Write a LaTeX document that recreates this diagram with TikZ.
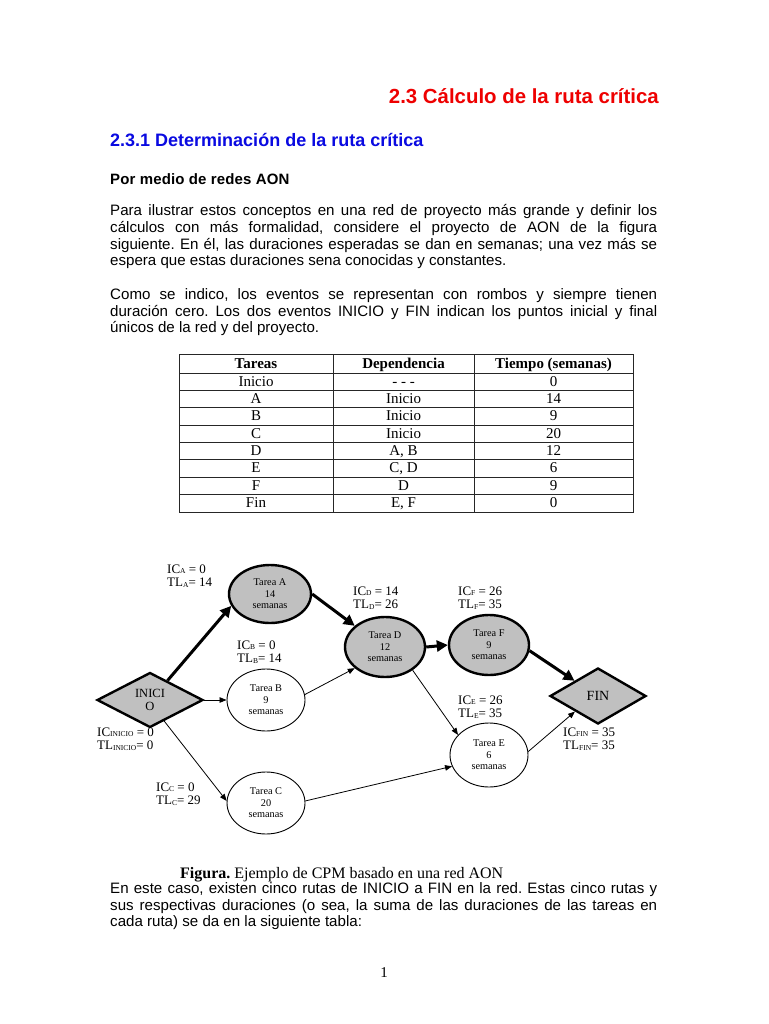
\documentclass[tikz,border=0pt]{standalone}
\usepackage{fontspec}
\setmainfont{Liberation Serif}
\newfontfamily\arial{Liberation Sans}
\usetikzlibrary{shapes.geometric,arrows.meta}
\definecolor{nodegray}{RGB}{192,192,192}
\definecolor{hred}{RGB}{238,0,0}
\definecolor{hblue}{RGB}{10,10,225}
\newcommand\sbs[1]{\raisebox{-0.5pt}{\fontsize{7.5}{7.5}\selectfont #1}}
\newcommand\jl[1]{\makebox[547pt][s]{#1}}
\newcommand\lbl[5]{\node[lab] (#1a) at (#2,#3) {#4};\node[lab] (#1b) at (#2,#3+13.5) {#5};}
\frenchspacing
\begin{document}
\begin{tikzpicture}[x=1pt,y=-1pt,
  body/.style={anchor=base west,inner sep=0,font=\arial\fontsize{15.1}{16.6}\selectfont},
  crit/.style={ellipse,draw,line width=2.4pt,fill=nodegray,inner sep=0,align=center,font=\fontsize{10.3}{11.5}\selectfont},
  norm/.style={ellipse,draw,line width=0.9pt,fill=white,inner sep=0,align=center,font=\fontsize{10.3}{11.5}\selectfont},
  event/.style={diamond,draw,line width=2.4pt,fill=nodegray,inner sep=0,align=center},
  critarrow/.style={line width=3pt,-{Triangle[length=11pt,width=11pt]}},
  thinarrow/.style={line width=0.8pt,-{Triangle[length=7pt,width=5.5pt]}},
  lab/.style={anchor=base west,inner sep=0,font=\fontsize{13}{14}\selectfont},
  cell/.style={anchor=base,inner sep=0,font=\fontsize{15}{17}\selectfont},
  cellh/.style={anchor=base,inner sep=0,font=\bfseries\fontsize{15}{17}\selectfont},
  tline/.style={line width=0.8pt,draw=black!85}]
\useasboundingbox (0,0) rectangle (768,1024);
\fill[white] (0,0) rectangle (768,1024);

% headings
\node[anchor=base east,inner sep=0,text=hred,font=\arial\bfseries\fontsize{20.4}{24}\selectfont] (h1) at (659,104) {2.3 Cálculo de la ruta crítica};
\node[anchor=base west,inner sep=0,text=hblue,font=\arial\bfseries\fontsize{18}{21}\selectfont] (h2) at (110,147) {2.3.1 Determinación de la ruta crítica};
\node[anchor=base west,inner sep=0,font=\arial\bfseries\fontsize{15}{17}\selectfont\addfontfeature{LetterSpace=1}] (h3) at (110,185) {Por medio de redes AON};

% paragraph 1
\node[body] (p1a) at (110,215.7) {\jl{Para ilustrar estos conceptos en una red de proyecto más grande y definir los}};
\node[body] (p1b) at (110,232.3) {\jl{cálculos con más formalidad, considere el proyecto de AON de la figura}};
\node[body] (p1c) at (110,249) {\jl{siguiente. En él, las duraciones esperadas se dan en semanas; una vez más se}};
\node[body] (p1d) at (110,265.7) {espera que estas duraciones sena conocidas y constantes.};
% paragraph 2
\node[body] (p2a) at (110,299.5) {\jl{Como se indico, los eventos se representan con rombos y siempre tienen}};
\node[body] (p2b) at (110,316) {\jl{duración cero. Los dos eventos INICIO y FIN indican los puntos inicial y final}};
\node[body] (p2c) at (110,332.5) {únicos de la red y del proyecto.};

% table
\draw[tline] (179,354) rectangle (633,512);
\draw[tline] (179,373) -- (633,373);
\foreach \k in {1,...,7} {\draw[tline] (179,373+17.375*\k) -- (633,373+17.375*\k);}
\draw[tline] (333,354) -- (333,512);
\draw[tline] (474,354) -- (474,512);
\node[cellh] (th1) at (256,368) {Tareas};
\node[cellh] (th2) at (403.5,368) {Dependencia};
\node[cellh] (th3) at (553.5,368) {Tiempo (semanas)};
\foreach \t/\d/\m [count=\i] in {Inicio/{- - -}/0, A/Inicio/14, B/Inicio/9, C/Inicio/20, D/{A, B}/12, E/{C, D}/6, F/D/9, Fin/{E, F}/0} {
  \node[cell] (t\i) at (256,386+17.375*\i-17.375) {\t};
  \node[cell] (d\i) at (403.5,386+17.375*\i-17.375) {\d};
  \node[cell] (m\i) at (553.5,386+17.375*\i-17.375) {\m};
}

% network
\node[event,minimum width=106pt,minimum height=55pt,font=\fontsize{12.5}{13.5}\selectfont] (inicio) at (150,700) {INICI\\O};
\node[crit,minimum width=82pt,minimum height=58pt] (A) at (270,594) {Tarea A\\14\\semanas};
\node[norm,minimum width=78pt,minimum height=62pt] (B) at (266,700) {Tarea B\\9\\semanas};
\node[norm,minimum width=78pt,minimum height=62pt] (C) at (266,803) {Tarea C\\20\\semanas};
\node[crit,minimum width=80pt,minimum height=60pt] (D) at (385,647) {Tarea D\\12\\semanas};
\node[crit,minimum width=80pt,minimum height=60pt] (F) at (489,645) {Tarea F\\9\\semanas};
\node[norm,minimum width=78pt,minimum height=64pt] (E) at (489,755) {Tarea E\\6\\semanas};
\node[event,minimum width=96pt,minimum height=56pt,font=\fontsize{14}{15}\selectfont] (fin) at (598,696) {FIN};

\draw[critarrow] (inicio.48) -- (A.197);
\draw[critarrow] (A.east) -- (D.145);
\draw[thinarrow] (inicio.east) -- (B.west);
\draw[thinarrow] (B.8) -- (D.215);
\draw[thinarrow] (inicio.-56) -- (C.177);
\draw[thinarrow] (C.3) -- (E.197);
\draw[thinarrow] (D.-40) -- (E.147);
\draw[critarrow] (D.east) -- (F.west);
\draw[critarrow] (F.-8) -- (fin.147);
\draw[thinarrow] (E.5) -- (fin.214);

\lbl{la}{167}{573}{IC\sbs{A} = 0}{TL\sbs{A}= 14}
\lbl{lb}{237}{649}{IC\sbs{B} = 0}{TL\sbs{B}= 14}
\lbl{ld}{353}{595}{IC\sbs{D} = 14}{TL\sbs{D}= 26}
\lbl{lf}{458}{595}{IC\sbs{F} = 26}{TL\sbs{F}= 35}
\lbl{le}{458}{704}{IC\sbs{E} = 26}{TL\sbs{E}= 35}
\lbl{li}{97}{736}{IC\sbs{INICIO} = 0}{TL\sbs{INICIO}= 0}
\lbl{lc}{156}{791}{IC\sbs{C} = 0}{TL\sbs{C}= 29}
\lbl{ln}{563}{736}{IC\sbs{FIN} = 35}{TL\sbs{FIN}= 35}

% caption and closing text
\node[anchor=base west,inner sep=0,font=\fontsize{16}{18}\selectfont] (cap) at (180,878) {\textbf{Figura.} Ejemplo de CPM basado en una red AON};
\node[body] (p3a) at (110,893) {\jl{En este caso, existen cinco rutas de INICIO a FIN en la red. Estas cinco rutas y}};
\node[body] (p3b) at (110,910) {\jl{sus respectivas duraciones (o sea, la suma de las duraciones de las tareas en}};
\node[body] (p3c) at (110,926.5) {cada ruta) se da en la siguiente tabla:};
\node[anchor=base,inner sep=0,font=\fontsize{15}{17}\selectfont] (pg) at (384,977) {1};
\end{tikzpicture}
\end{document}
